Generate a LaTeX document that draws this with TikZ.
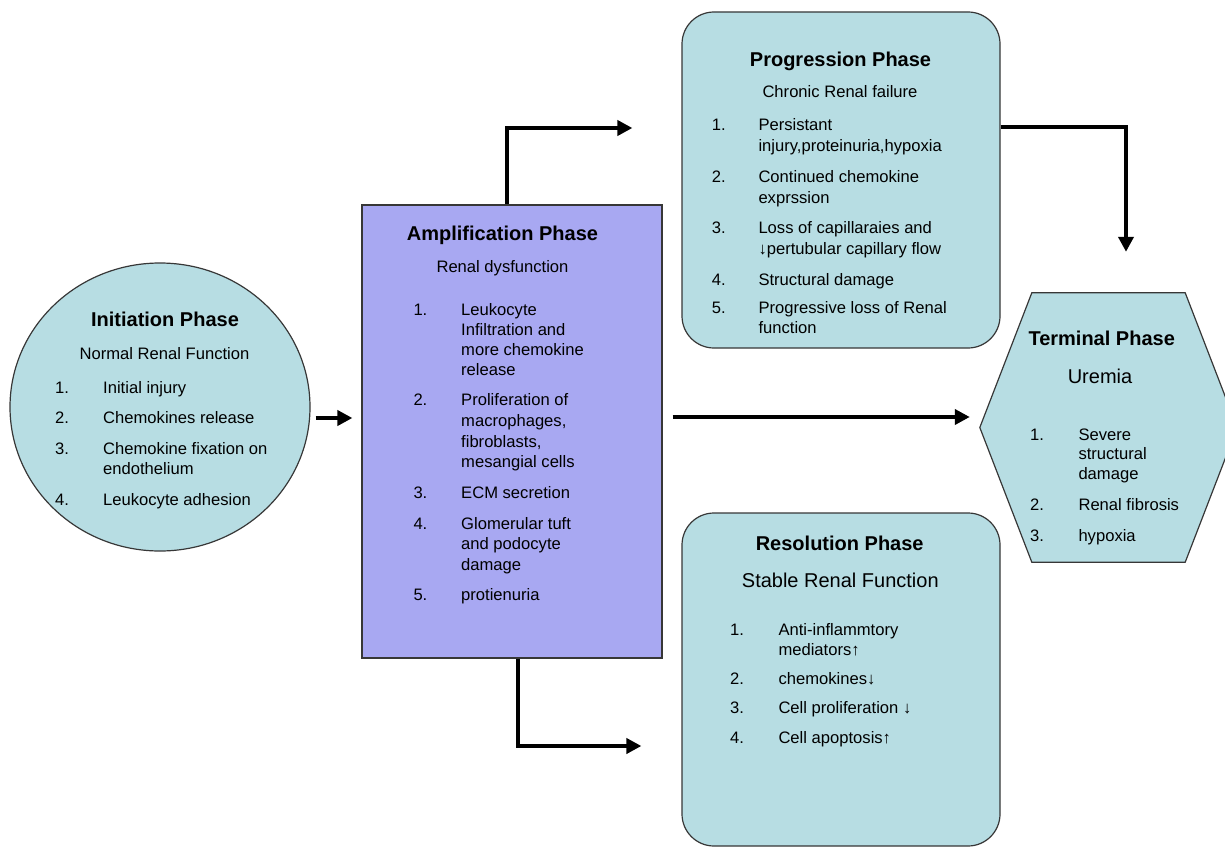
\documentclass[tikz,border=0pt]{standalone}
\usepackage{fontspec}
\setmainfont{Liberation Sans}
\usetikzlibrary{shapes.geometric,arrows.meta,calc}
\definecolor{cyanfill}{RGB}{183,221,227}
\definecolor{lavfill}{RGB}{168,168,242}
\definecolor{edgegray}{RGB}{55,55,55}
\begin{document}
\begin{tikzpicture}[x=1pt,y=-1pt,
  outline/.style={draw=edgegray,line width=1.2pt},
  shapebox/.style={outline,inner sep=0pt},
  arr/.style={line width=4.5pt,line join=miter,-{Triangle[length=15pt,width=15pt]}},
  ttl/.style={font=\fontsize{20}{24}\selectfont\bfseries,anchor=base,inner sep=0pt},
  sub/.style={font=\fontsize{16.6}{20}\selectfont,anchor=base,inner sep=0pt},
  subbig/.style={font=\fontsize{20}{24}\selectfont,anchor=base,inner sep=0pt},
  txt/.style={font=\fontsize{16.6}{20}\selectfont,anchor=base west,inner sep=0pt}]
\useasboundingbox (0,0) rectangle (1225,848);
\clip (0,0) rectangle (1225,848);

% shapes
\node[shapebox,ellipse,fill=cyanfill,minimum width=300pt,minimum height=288pt] (init) at (160,407) {};
\node[shapebox,rectangle,fill=lavfill,minimum width=300pt,minimum height=453pt] (amp) at (512,431.5) {};
\node[shapebox,rectangle,rounded corners=32pt,fill=cyanfill,minimum width=318pt,minimum height=336pt] (prog) at (841,180) {};
\node[shapebox,rectangle,rounded corners=32pt,fill=cyanfill,minimum width=318pt,minimum height=333pt] (res) at (841,679.5) {};
\node[inner sep=0pt,minimum width=257pt,minimum height=269pt] (term) at (1108.5,427.5) {};
\draw[outline,fill=cyanfill] (term.west) -- ($(term.north west)+(52,0)$) -- ($(term.north east)+(-52,0)$)
  -- (term.east) -- ($(term.south east)+(-52,0)$) -- ($(term.south west)+(52,0)$) -- cycle;

% connectors
\draw[arr] ($(init.east)+(5,11)$) -- ($(amp.west)+(-9,-13.5)$);
\draw[arr] ($(amp.north)+(-5,0)$) |- ($(prog.west)+(-49,-52)$);
\draw[arr] ($(amp.south)+(6,0)$) |- ($(res.west)+(-40,66.5)$);
\draw[arr] ($(amp.east)+(10,-14.5)$) -- ($(term.west)+(-10,-10.5)$);
\draw[arr] ($(prog.east)+(0,-53)$) -| ($(term.north)+(17.5,-41)$);

% Initiation
\node[ttl] (initT) at (165,326.7) {Initiation Phase};
\node[sub] (initS) at (164.5,359) {Normal Renal Function};
\node[txt] (i1n) at (55,393) {1.};
\node[txt] (i1) at (103,393) {Initial injury};
\node[txt] (i2n) at (55,423) {2.};
\node[txt] (i2) at (103,423) {Chemokines release};
\node[txt] (i3n) at (55,454) {3.};
\node[txt] (i3a) at (103,454) {Chemokine fixation on};
\node[txt] (i3b) at (103,474) {endothelium};
\node[txt] (i4n) at (55,505) {4.};
\node[txt] (i4) at (103,505) {Leukocyte adhesion};

% Amplification
\node[ttl] (ampT) at (502.5,240) {Amplification Phase};
\node[sub] (ampS) at (502.5,272.7) {Renal dysfunction};
\node[txt] (a1n) at (413.3,315) {1.};
\node[txt] (a1a) at (461,315) {Leukocyte};
\node[txt] (a1b) at (461,335) {Infiltration and};
\node[txt] (a1c) at (461,355.7) {more chemokine};
\node[txt] (a1d) at (461,375.7) {release};
\node[txt] (a2n) at (413.3,405.7) {2.};
\node[txt] (a2a) at (461,405.7) {Proliferation of};
\node[txt] (a2b) at (461,426.7) {macrophages,};
\node[txt] (a2c) at (461,447.3) {fibroblasts,};
\node[txt] (a2d) at (461,467.3) {mesangial cells};
\node[txt] (a3n) at (413.3,498.3) {3.};
\node[txt] (a3) at (461,498.3) {ECM secretion};
\node[txt] (a4n) at (413.3,529) {4.};
\node[txt] (a4a) at (461,529) {Glomerular tuft};
\node[txt] (a4b) at (461,549.3) {and podocyte};
\node[txt] (a4c) at (461,570) {damage};
\node[txt] (a5n) at (413.3,600) {5.};
\node[txt] (a5) at (461,600) {protienuria};

% Progression
\node[ttl] (progT) at (840.5,66.7) {Progression Phase};
\node[sub] (progS) at (840,97.3) {Chronic Renal failure};
\node[txt] (p1n) at (711.7,130) {1.};
\node[txt] (p1a) at (758.3,130) {Persistant};
\node[txt] (p1b) at (758.3,151.7) {injury,proteinuria,hypoxia};
\node[txt] (p2n) at (711.7,182.7) {2.};
\node[txt] (p2a) at (758.3,182.7) {Continued chemokine};
\node[txt] (p2b) at (758.3,203.3) {exprssion};
\node[txt] (p3n) at (711.7,233.3) {3.};
\node[txt] (p3a) at (758.3,233.3) {Loss of capillaraies and};
\node[txt] (p3b) at (758.3,254) {↓pertubular capillary flow};
\node[txt] (p4n) at (711.7,285) {4.};
\node[txt] (p4) at (758.3,285) {Structural damage};
\node[txt] (p5n) at (711.7,313.3) {5.};
\node[txt] (p5a) at (758.3,313.3) {Progressive loss of Renal};
\node[txt] (p5b) at (758.3,333.3) {function};

% Resolution
\node[ttl] (resT) at (839.7,550) {Resolution Phase};
\node[subbig] (resS) at (840.3,587.3) {Stable Renal Function};
\node[txt] (r1n) at (730,635) {1.};
\node[txt] (r1a) at (778.3,635) {Anti-inflammtory};
\node[txt] (r1b) at (778.3,655) {mediators↑};
\node[txt] (r2n) at (730,684) {2.};
\node[txt] (r2) at (778.3,684) {chemokines↓};
\node[txt] (r3n) at (730,713.3) {3.};
\node[txt] (r3) at (778.3,713.3) {Cell proliferation ↓};
\node[txt] (r4n) at (730,743.3) {4.};
\node[txt] (r4) at (778.3,743.3) {Cell apoptosis↑};

% Terminal
\node[ttl] (termT) at (1101.7,345) {Terminal Phase};
\node[subbig] (termS) at (1100,383.3) {Uremia};
\node[txt] (t1n) at (1030,440) {1.};
\node[txt] (t1a) at (1078.3,440) {Severe};
\node[txt] (t1b) at (1078.3,459.3) {structural};
\node[txt] (t1c) at (1078.3,479.3) {damage};
\node[txt] (t2n) at (1030,510) {2.};
\node[txt] (t2) at (1078.3,510) {Renal fibrosis};
\node[txt] (t3n) at (1030,541.7) {3.};
\node[txt] (t3) at (1078.3,541.7) {hypoxia};
\end{tikzpicture}
\end{document}
